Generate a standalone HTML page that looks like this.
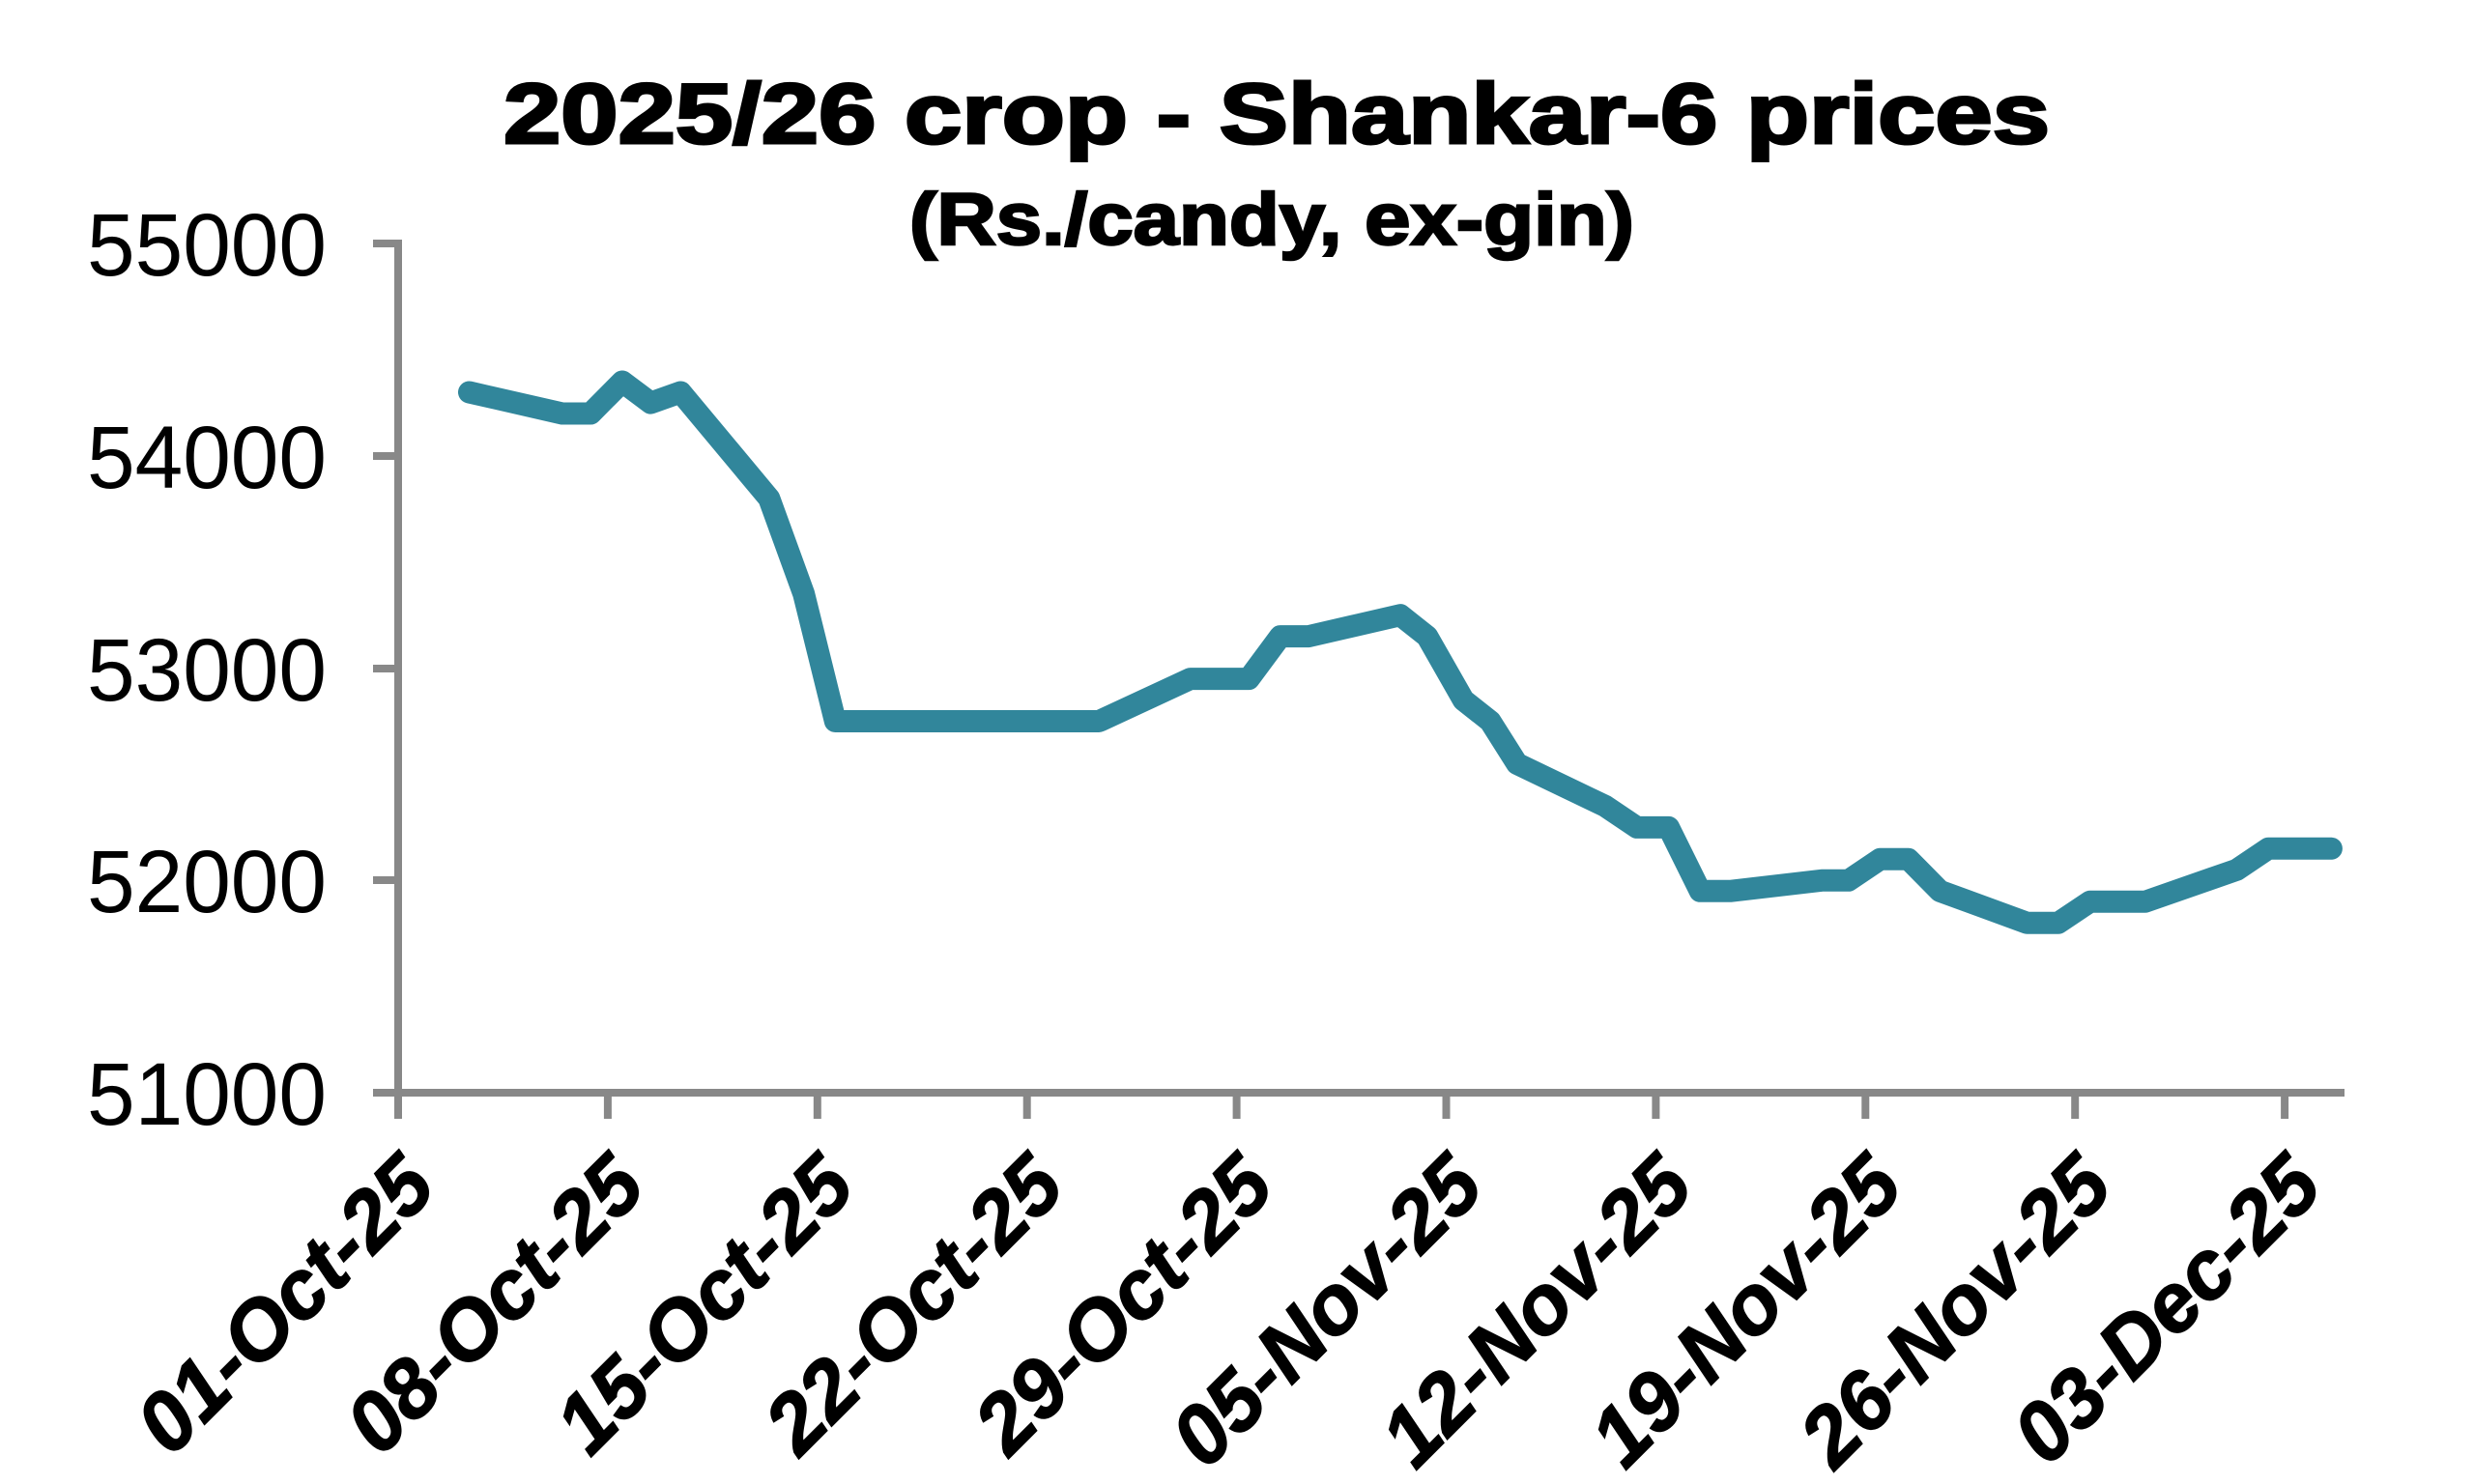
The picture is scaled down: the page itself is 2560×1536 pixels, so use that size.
<!DOCTYPE html>
<html><head><meta charset="utf-8"><style>
html,body{margin:0;padding:0;background:#fff;}
svg{display:block;}
</style></head><body>
<svg id="s" width="2560" height="1536" viewBox="0 0 2560 1536" xmlns="http://www.w3.org/2000/svg">
<rect width="2560" height="1536" fill="#fff"/>
<text x="1321" y="148" font-family="Liberation Sans, sans-serif" font-weight="bold" font-size="88" text-anchor="middle" textLength="1600" lengthAdjust="spacingAndGlyphs" stroke="#000" stroke-width="3">2025/26 crop - Shankar-6 prices</text>
<text x="1316" y="253" font-family="Liberation Sans, sans-serif" font-weight="bold" font-size="76" text-anchor="middle" textLength="750" lengthAdjust="spacingAndGlyphs" stroke="#000" stroke-width="2.5">(Rs./candy, ex-gin)</text>
<g stroke="#888" stroke-width="8" fill="none">
<line x1="412" y1="248" x2="412" y2="1158"/>
<line x1="386" y1="1131" x2="2426" y2="1131"/>
<line x1="386" y1="252" x2="412" y2="252"/>
<line x1="386" y1="472" x2="412" y2="472"/>
<line x1="386" y1="692" x2="412" y2="692"/>
<line x1="386" y1="911" x2="412" y2="911"/>
</g>
<g id="xt" stroke="#888" stroke-width="8"></g>
<g font-family="Liberation Sans, sans-serif" font-size="92" text-anchor="end" fill="#000">
<text x="338" y="285" textLength="248" lengthAdjust="spacingAndGlyphs">55000</text>
<text x="338" y="505" textLength="248" lengthAdjust="spacingAndGlyphs">54000</text>
<text x="338" y="725" textLength="248" lengthAdjust="spacingAndGlyphs">53000</text>
<text x="338" y="944" textLength="248" lengthAdjust="spacingAndGlyphs">52000</text>
<text x="338" y="1164" textLength="248" lengthAdjust="spacingAndGlyphs">51000</text>
</g>
<g id="xl" font-family="Liberation Sans, sans-serif" font-size="86" font-weight="bold" font-style="italic" text-anchor="end" fill="#000" stroke="#000" stroke-width="1.5"></g>
<polyline id="ln" fill="none" stroke="#31869b" stroke-width="23" stroke-linejoin="round" stroke-linecap="round"/>
</svg>
<script>
var ns="http://www.w3.org/2000/svg";
var labs=["01-Oct-25","08-Oct-25","15-Oct-25","22-Oct-25","29-Oct-25","05-Nov-25","12-Nov-25","19-Nov-25","26-Nov-25","03-Dec-25"];
var xt=document.getElementById("xt"),xl=document.getElementById("xl");
for(var i=0;i<10;i++){var x=412+i*216.9;
var l=document.createElementNS(ns,"line");l.setAttribute("x1",x);l.setAttribute("x2",x);l.setAttribute("y1",1131);l.setAttribute("y2",1158);xt.appendChild(l);
var t=document.createElementNS(ns,"text");var ax=x+42,ay=1232;t.setAttribute("x",ax);t.setAttribute("y",ay);t.setAttribute("transform","rotate(-45 "+ax+" "+ay+")");t.textContent=labs[i];xl.appendChild(t);}
var d=[[298,54300],[357,54200],[375,54200],[395,54350],[413,54250],[432,54300],[488,53800],[510,53350],[530,52750],[697,52750],[755,52950],[792,52950],[812,53150],[830,53150],[888,53250],[905,53150],[928,52850],[945,52750],[962,52550],[1018,52350],[1038,52250],[1058,52250],[1078,51950],[1097,51950],[1155,52000],[1172,52000],[1192,52100],[1210,52100],[1230,51950],[1285,51800],[1305,51800],[1325,51900],[1360,51900],[1418,52050],[1438,52150],[1478,52150]];
var p=d.map(function(a){return (412+(a[0]-253)*1.633).toFixed(1)+","+(1131-(a[1]-51000)*0.2197).toFixed(1);}).join(" ");
document.getElementById("ln").setAttribute("points",p);
</script>
</body></html>
